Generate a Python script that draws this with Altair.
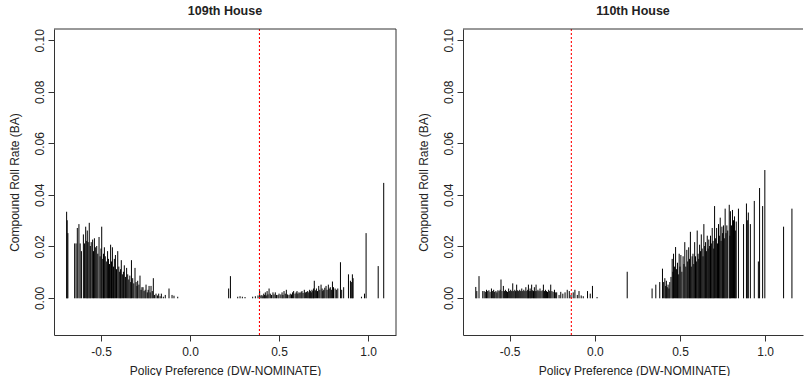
import altair as alt
import pandas as pd

# ---------------- data ----------------
# 109th House, Democrats
h109_dem_x = [-0.693, -0.690, -0.686, -0.648, -0.640, -0.633, -0.624, -0.617, -0.610, -0.599,
              -0.593, -0.586, -0.580, -0.577, -0.572, -0.566, -0.560, -0.555, -0.547, -0.542,
              -0.537, -0.530, -0.524, -0.518, -0.511, -0.505, -0.500, -0.496, -0.490, -0.486,
              -0.481, -0.476, -0.470, -0.463, -0.458, -0.452, -0.446, -0.441, -0.436, -0.430,
              -0.425, -0.419, -0.413, -0.406, -0.400, -0.395, -0.390, -0.386, -0.380, -0.374,
              -0.369, -0.362, -0.356, -0.350, -0.344, -0.338, -0.333, -0.329, -0.322, -0.316,
              -0.309, -0.303, -0.298, -0.294, -0.287, -0.281, -0.275, -0.270, -0.264, -0.258,
              -0.252, -0.247, -0.240, -0.235, -0.230, -0.224, -0.219, -0.212, -0.206, -0.199,
              -0.191, -0.183, -0.176, -0.168, -0.161, -0.150, -0.139, -0.118, -0.101, -0.090,
              -0.069]
h109_dem_y = [0.0333, 0.0300, 0.0250, 0.0210, 0.0210, 0.0270, 0.0285, 0.0210, 0.0180, 0.0245,
              0.0210, 0.0275, 0.0220, 0.0260, 0.0215, 0.0290, 0.0200, 0.0215, 0.0225, 0.0180,
              0.0230, 0.0195, 0.0200, 0.0170, 0.0235, 0.0160, 0.0190, 0.0275, 0.0150, 0.0170,
              0.0195, 0.0160, 0.0140, 0.0180, 0.0150, 0.0130, 0.0205, 0.0140, 0.0195, 0.0120,
              0.0150, 0.0165, 0.0110, 0.0180, 0.0120, 0.0100, 0.0110, 0.0145, 0.0090, 0.0100,
              0.0125, 0.0080, 0.0115, 0.0090, 0.0070, 0.0085, 0.0060, 0.0145, 0.0075, 0.0055,
              0.0115, 0.0060, 0.0045, 0.0065, 0.0050, 0.0085, 0.0030, 0.0040, 0.0040, 0.0025,
              0.0030, 0.0050, 0.0020, 0.0030, 0.0045, 0.0020, 0.0045, 0.0025, 0.0075, 0.0010,
              0.0015, 0.0008, 0.0015, 0.0005, 0.0015, 0.0003, 0.0010, 0.0035, 0.0010, 0.0007,
              0.0003]
# 109th House, Republicans
h109_rep_x = [0.217, 0.227, 0.268, 0.281, 0.294, 0.309, 0.352, 0.367, 0.382, 0.391,
              0.398, 0.404, 0.409, 0.414, 0.419, 0.423, 0.428, 0.433, 0.438, 0.444,
              0.451, 0.458, 0.466, 0.472, 0.479, 0.486, 0.494, 0.500, 0.510, 0.517,
              0.522, 0.528, 0.535, 0.541, 0.548, 0.556, 0.563, 0.570, 0.576, 0.582,
              0.590, 0.596, 0.601, 0.606, 0.612, 0.618, 0.624, 0.629, 0.635, 0.642,
              0.648, 0.655, 0.661, 0.667, 0.672, 0.676, 0.681, 0.685, 0.690, 0.694,
              0.698, 0.704, 0.710, 0.716, 0.723, 0.729, 0.736, 0.742, 0.746, 0.751,
              0.757, 0.764, 0.770, 0.777, 0.782, 0.788, 0.794, 0.800, 0.806, 0.815,
              0.822, 0.830, 0.845, 0.852, 0.863, 0.890, 0.901, 0.906, 0.912, 0.916,
              0.963, 0.980, 0.989, 1.057, 1.088]
h109_rep_y = [0.0035, 0.0083, 0.0003, 0.0005, 0.0003, 0.0002, 0.0003, 0.0005, 0.0008, 0.0025,
              0.0008, 0.0010, 0.0005, 0.0015, 0.0010, 0.0020, 0.0008, 0.0025, 0.0012, 0.0035,
              0.0015, 0.0010, 0.0020, 0.0012, 0.0020, 0.0010, 0.0010, 0.0015, 0.0012, 0.0020,
              0.0010, 0.0025, 0.0015, 0.0030, 0.0012, 0.0010, 0.0015, 0.0012, 0.0020, 0.0025,
              0.0015, 0.0020, 0.0025, 0.0015, 0.0020, 0.0018, 0.0022, 0.0025, 0.0018, 0.0030,
              0.0020, 0.0022, 0.0025, 0.0020, 0.0030, 0.0025, 0.0020, 0.0030, 0.0025, 0.0035,
              0.0065, 0.0028, 0.0035, 0.0025, 0.0045, 0.0030, 0.0050, 0.0035, 0.0025, 0.0030,
              0.0038, 0.0045, 0.0030, 0.0050, 0.0035, 0.0040, 0.0030, 0.0062, 0.0040, 0.0035,
              0.0030, 0.0035, 0.0137, 0.0030, 0.0040, 0.0090, 0.0065, 0.0060, 0.0090, 0.0075,
              0.0003, 0.0015, 0.0250, 0.0122, 0.0445]
# 110th House, Democrats
h110_dem_x = [-0.699, -0.693, -0.680, -0.658, -0.650, -0.643, -0.636, -0.629, -0.622, -0.615,
              -0.607, -0.600, -0.594, -0.588, -0.581, -0.575, -0.569, -0.562, -0.556, -0.551,
              -0.545, -0.537, -0.531, -0.525, -0.519, -0.513, -0.506, -0.500, -0.494, -0.488,
              -0.482, -0.476, -0.470, -0.465, -0.459, -0.453, -0.447, -0.441, -0.435, -0.429,
              -0.423, -0.417, -0.411, -0.405, -0.399, -0.394, -0.390, -0.385, -0.380, -0.376,
              -0.371, -0.365, -0.360, -0.355, -0.350, -0.345, -0.340, -0.334, -0.328, -0.322,
              -0.316, -0.309, -0.302, -0.296, -0.290, -0.284, -0.278, -0.271, -0.265, -0.259,
              -0.252, -0.245, -0.237, -0.230, -0.224, -0.210, -0.200, -0.188, -0.175, -0.162,
              -0.150, -0.140, -0.127, -0.117, -0.103, -0.093, -0.080, -0.068, -0.043, -0.027,
              -0.014, 0.013]
h110_dem_y = [0.0041, 0.0025, 0.0083, 0.0025, 0.0025, 0.0022, 0.0030, 0.0025, 0.0028, 0.0022,
              0.0035, 0.0025, 0.0030, 0.0022, 0.0025, 0.0020, 0.0028, 0.0025, 0.0030, 0.0070,
              0.0025, 0.0045, 0.0025, 0.0030, 0.0025, 0.0022, 0.0035, 0.0025, 0.0030, 0.0025,
              0.0055, 0.0025, 0.0030, 0.0025, 0.0050, 0.0028, 0.0025, 0.0030, 0.0025, 0.0035,
              0.0025, 0.0030, 0.0025, 0.0040, 0.0025, 0.0030, 0.0050, 0.0025, 0.0035, 0.0025,
              0.0050, 0.0028, 0.0025, 0.0040, 0.0025, 0.0050, 0.0025, 0.0030, 0.0025, 0.0035,
              0.0025, 0.0028, 0.0050, 0.0025, 0.0030, 0.0025, 0.0022, 0.0030, 0.0025, 0.0050,
              0.0025, 0.0022, 0.0030, 0.0020, 0.0020, 0.0010, 0.0022, 0.0015, 0.0020, 0.0030,
              0.0025, 0.0010, 0.0020, 0.0030, 0.0010, 0.0025, 0.0008, 0.0005, 0.0025, 0.0015,
              0.0045, 0.0002]
# 110th House, Republicans
h110_rep_x = [0.190, 0.336, 0.358, 0.381, 0.397, 0.404, 0.411, 0.416, 0.420, 0.425,
              0.430, 0.435, 0.440, 0.447, 0.454, 0.458, 0.462, 0.468, 0.474, 0.479,
              0.485, 0.490, 0.495, 0.500, 0.505, 0.511, 0.518, 0.523, 0.528, 0.534,
              0.540, 0.545, 0.551, 0.556, 0.561, 0.566, 0.571, 0.576, 0.581, 0.586,
              0.591, 0.596, 0.601, 0.606, 0.610, 0.615, 0.620, 0.625, 0.630, 0.635,
              0.640, 0.645, 0.650, 0.655, 0.660, 0.665, 0.669, 0.674, 0.679, 0.684,
              0.689, 0.694, 0.698, 0.703, 0.709, 0.715, 0.720, 0.726, 0.731, 0.736,
              0.741, 0.746, 0.750, 0.755, 0.760, 0.765, 0.770, 0.775, 0.780, 0.789,
              0.793, 0.796, 0.802, 0.808, 0.814, 0.820, 0.825, 0.830, 0.843, 0.873,
              0.890, 0.895, 0.901, 0.913, 0.936, 0.960, 0.967, 0.985, 0.998, 1.108,
              1.157]
h110_rep_y = [0.0100, 0.0035, 0.0050, 0.0060, 0.0112, 0.0060, 0.0075, 0.0045, 0.0065, 0.0040,
              0.0050, 0.0035, 0.0060, 0.0080, 0.0150, 0.0100, 0.0170, 0.0120, 0.0196, 0.0110,
              0.0135, 0.0090, 0.0170, 0.0120, 0.0165, 0.0100, 0.0160, 0.0130, 0.0215, 0.0120,
              0.0185, 0.0140, 0.0195, 0.0150, 0.0255, 0.0120, 0.0160, 0.0170, 0.0130, 0.0215,
              0.0160, 0.0140, 0.0260, 0.0170, 0.0150, 0.0205, 0.0180, 0.0245, 0.0190, 0.0160,
              0.0285, 0.0200, 0.0215, 0.0180, 0.0240, 0.0190, 0.0225, 0.0200, 0.0240, 0.0210,
              0.0270, 0.0220, 0.0190, 0.0355, 0.0230, 0.0270, 0.0210, 0.0285, 0.0240, 0.0310,
              0.0220, 0.0275, 0.0250, 0.0280, 0.0230, 0.0345, 0.0250, 0.0280, 0.0260, 0.0360,
              0.0240, 0.0335, 0.0280, 0.0340, 0.0300, 0.0315, 0.0260, 0.0295, 0.0345, 0.0285,
              0.0365, 0.0300, 0.0330, 0.0285, 0.0375, 0.0140, 0.0425, 0.0355, 0.0495, 0.0275,
              0.0345]

panel_titles = ["109th House", "110th House"]
cutpoints = [0.39, -0.138]            # dotted red reference lines
x_ticks = [-0.5, 0.0, 0.5, 1.0]
y_ticks = [0.0, 0.02, 0.04, 0.06, 0.08, 0.10]
x_title = "Policy Preference (DW-NOMINATE)"
y_title = "Compound Roll Rate (BA)"

# ---------------- styling ----------------
FONT = "Liberation Sans"
INK = "#222222"
LINE = "#333333"
H = 306
Y_DOMAIN = [-0.0144, 0.1044]


def panel(idx, xs, ys, cut, xdom, w, right_border):
    df = pd.DataFrame({"x": xs, "y": ys})
    xscale = alt.Scale(domain=xdom, nice=False, zero=False)
    yscale = alt.Scale(domain=Y_DOMAIN, nice=False, zero=False)
    xaxis = alt.Axis(
        values=x_ticks, title=x_title,
        labelExpr="(datum.value < 0 ? '-' : '') + format(abs(datum.value), '.1f')",
        tickSize=6, labelPadding=14, labelBaseline="alphabetic",
        titleX=171, titleY=39, titleAlign="center", titleBaseline="alphabetic",
        grid=False,
    )
    yaxis = alt.Axis(
        values=y_ticks, title=y_title, format=".2f",
        labelAngle=-90, labelAlign="center", labelBaseline="alphabetic",
        tickSize=6, labelPadding=5,
        titleAngle=-90, titleX=-36, titleY=H / 2, titleAlign="center",
        titleBaseline="alphabetic",
        grid=False,
    )
    bars = alt.Chart(df).mark_rule(color="black", strokeWidth=1, strokeCap="round").encode(
        x=alt.X("x:Q", scale=xscale, axis=xaxis),
        y=alt.Y("y:Q", scale=yscale, axis=yaxis),
        y2=alt.datum(0),
    )
    ref = alt.Chart(pd.DataFrame({"c": [cut]})).mark_rule(
        color="#ff0000", strokeWidth=1.1, strokeDash=[2, 2]
    ).encode(x=alt.X("c:Q", scale=xscale))
    top = alt.Chart(pd.DataFrame({"k": [0]})).mark_rule(color=LINE, strokeWidth=1).encode(
        x=alt.value(0), x2=alt.value(w), y=alt.value(0)
    )
    layers = [bars, ref, top]
    if right_border:
        rb = alt.Chart(pd.DataFrame({"k": [0]})).mark_rule(color=LINE, strokeWidth=1).encode(
            x=alt.value(w), y=alt.value(0), y2=alt.value(H)
        )
        layers.append(rb)
    return alt.layer(*layers).properties(
        width=w, height=H,
        title=alt.TitleParams(panel_titles[idx],
                              font=FONT, fontSize=12.5, fontWeight="bold", color=INK,
                              anchor="middle", offset=11),
    )


left = panel(0, h109_dem_x + h109_rep_x, h109_dem_y + h109_rep_y, cutpoints[0],
             [-0.764, 1.157], 342, True)
right = panel(1, h110_dem_x + h110_rep_x, h110_dem_y + h110_rep_y, cutpoints[1],
              [-0.774, 1.222], 340, False)

chart = alt.hconcat(left, right, spacing=20).properties(
    padding={"left": 8, "top": 4, "right": 0, "bottom": 0}
).configure_view(stroke=None).configure_axis(
    labelFont=FONT, titleFont=FONT, labelFontSize=12, titleFontSize=12,
    titleFontWeight="normal", labelColor=INK, titleColor=INK,
    domainColor=LINE, tickColor=LINE, domainWidth=1, tickWidth=1,
)

chart.save("out.html", embed_options={"renderer": "svg", "actions": False})
